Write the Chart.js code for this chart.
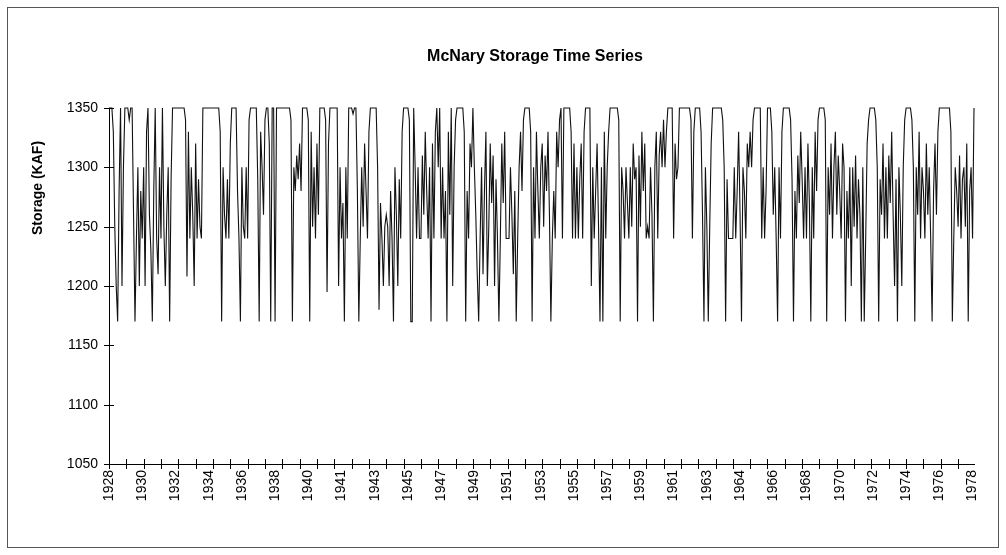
<!DOCTYPE html>
<html>
<head>
<meta charset="utf-8">
<script src="https://cdn.jsdelivr.net/npm/chart.js@4"></script>
<style>
  html, body { margin: 0; padding: 0; background: #fff; }
  #wrap { width: 1006px; height: 555px; }
</style>
</head>
<body>
<div id="wrap"><canvas id="c" width="1006" height="555"></canvas></div>
<script>
// ---- data ----
const chartTitle = 'McNary Storage Time Series';
const yAxisTitle = 'Storage (KAF)';
const yearLabels = ['1928','1930','1932','1934','1936','1938','1940','1941','1943','1945','1947','1949','1951','1953',
                    '1955','1957','1959','1961','1963','1964','1966','1968','1970','1972','1974','1976','1978'];
const monthsPerLabel = 23;
const monthsPerTick = 12;
const yMin = 1050, yMax = 1350, yStep = 50;

// monthly storage (KAF), one row per year
const storage = [
1350,1350,1350,1330,1250,1200,1170,1280,1350,1200,1300,1350,
1350,1350,1340,1350,1350,1260,1170,1240,1300,1200,1280,1240,
1300,1200,1330,1350,1260,1230,1170,1280,1350,1240,1210,1300,
1240,1350,1250,1200,1260,1300,1170,1290,1350,1350,1350,1350,
1350,1350,1350,1350,1350,1340,1208,1330,1240,1300,1260,1200,
1320,1240,1290,1250,1240,1350,1350,1350,1350,1350,1350,1350,
1350,1350,1350,1350,1350,1330,1170,1300,1260,1240,1290,1240,
1320,1350,1350,1350,1350,1280,1240,1170,1300,1250,1240,1300,
1240,1340,1350,1350,1350,1350,1350,1290,1170,1330,1300,1260,
1340,1350,1350,1320,1170,1350,1350,1170,1350,1350,1350,1350,
1350,1350,1350,1350,1350,1350,1340,1170,1300,1280,1310,1290,
1320,1280,1350,1350,1350,1350,1340,1170,1330,1250,1300,1240,
1320,1260,1350,1350,1350,1350,1340,1195,1320,1350,1350,1350,
1350,1350,1350,1200,1300,1240,1270,1170,1300,1240,1350,1350,
1350,1345,1350,1350,1280,1170,1240,1300,1250,1320,1280,1240,
1330,1350,1350,1350,1350,1350,1300,1180,1270,1240,1200,1250,
1260,1250,1200,1280,1240,1170,1300,1260,1200,1290,1240,1330,
1350,1350,1350,1350,1340,1170,1170,1350,1300,1240,1300,1240,
1240,1310,1260,1330,1280,1240,1300,1170,1320,1240,1330,1350,
1300,1350,1240,1300,1240,1280,1170,1330,1260,1350,1200,1300,
1340,1350,1350,1350,1350,1350,1330,1170,1280,1240,1320,1300,
1350,1300,1260,1210,1170,1240,1300,1210,1280,1330,1200,1250,
1320,1270,1310,1200,1290,1240,1170,1240,1320,1270,1330,1240,
1240,1240,1300,1260,1210,1280,1170,1240,1300,1330,1280,1340,
1350,1350,1350,1350,1330,1170,1300,1240,1330,1280,1240,1300,
1320,1250,1310,1280,1330,1260,1170,1240,1280,1240,1330,1300,
1340,1350,1240,1350,1350,1350,1350,1350,1330,1240,1320,1240,
1300,1240,1290,1320,1240,1330,1350,1350,1350,1350,1200,1300,
1240,1280,1320,1250,1170,1300,1170,1330,1240,1300,1330,1350,
1350,1350,1350,1350,1350,1340,1170,1300,1280,1240,1300,1270,
1240,1300,1250,1320,1290,1300,1170,1310,1250,1330,1280,1320,
1240,1250,1240,1300,1260,1170,1300,1330,1240,1310,1330,1300,
1340,1300,1330,1350,1350,1350,1350,1240,1320,1290,1300,1350,
1350,1350,1350,1350,1350,1350,1350,1340,1240,1330,1350,1350,
1350,1350,1330,1260,1170,1300,1250,1170,1250,1320,1350,1350,
1350,1350,1350,1350,1350,1340,1300,1170,1290,1240,1240,1240,
1240,1300,1240,1280,1330,1260,1170,1300,1280,1240,1320,1300,
1330,1300,1340,1350,1350,1350,1350,1350,1240,1300,1240,1280,
1350,1350,1350,1330,1260,1300,1240,1170,1300,1240,1330,1350,
1350,1350,1350,1350,1340,1290,1170,1280,1240,1310,1270,1330,
1290,1240,1300,1240,1320,1270,1170,1300,1240,1330,1280,1340,
1350,1350,1350,1350,1340,1170,1300,1260,1320,1240,1300,1330,
1260,1310,1280,1240,1320,1300,1170,1280,1240,1300,1200,1300,
1250,1310,1240,1290,1260,1170,1300,1170,1240,1320,1340,1350,
1350,1350,1350,1340,1300,1170,1290,1260,1320,1240,1300,1240,
1310,1270,1330,1260,1200,1290,1170,1300,1260,1200,1300,1340,
1350,1350,1350,1350,1340,1300,1170,1300,1260,1330,1240,1300,
1280,1240,1320,1260,1300,1240,1170,1280,1320,1260,1330,1350,
1350,1350,1350,1350,1350,1350,1350,1330,1170,1240,1300,1280,
1250,1310,1240,1290,1300,1250,1320,1170,1280,1300,1240,1350
];

// ---- drawing ----
const FONT = "'Liberation Sans', Arial, 'DejaVu Sans', sans-serif";

const decor = {
  id: 'decor',
  beforeDraw(chart) {
    const ctx = chart.ctx;
    ctx.save();
    ctx.fillStyle = '#fff';
    ctx.fillRect(0, 0, chart.width, chart.height);
    ctx.strokeStyle = '#555';
    ctx.lineWidth = 1;
    ctx.strokeRect(7.5, 7.5, 991, 540);
    ctx.restore();
  },
  afterDraw(chart) {
    const { ctx, chartArea, scales } = chart;
    const x = scales.x, y = scales.y;
    ctx.save();
    ctx.strokeStyle = '#000';
    ctx.lineWidth = 1;
    ctx.beginPath();
    // x tick marks (crossing the axis), one per year
    for (let v = x.min; v <= x.max; v += monthsPerTick) {
      const px = Math.round(x.getPixelForValue(v)) + 0.5;
      ctx.moveTo(px, chartArea.bottom - 5);
      ctx.lineTo(px, chartArea.bottom + 5);
    }
    // y tick marks (crossing the axis)
    y.ticks.forEach(t => {
      const py = Math.round(y.getPixelForValue(t.value)) + 0.5;
      ctx.moveTo(chartArea.left - 5, py);
      ctx.lineTo(chartArea.left + 5, py);
    });
    ctx.stroke();
    // title
    ctx.fillStyle = '#000';
    ctx.font = 'bold 16px ' + FONT;
    ctx.textAlign = 'center';
    ctx.textBaseline = 'middle';
    ctx.fillText(chartTitle, 535, 57);
    // y axis title
    ctx.translate(38, 188);
    ctx.rotate(-Math.PI / 2);
    ctx.font = 'bold 14px ' + FONT;
    ctx.fillText(yAxisTitle, 0, 0);
    ctx.restore();
  }
};

new Chart(document.getElementById('c'), {
  type: 'line',
  data: {
    datasets: [{
      data: storage.map((v, i) => ({ x: i, y: v })),
      borderColor: '#111',
      borderWidth: 1.1,
      pointRadius: 0,
      tension: 0,
      fill: false,
      clip: false
    }]
  },
  options: {
    responsive: false,
    animation: false,
    events: [],
    layout: { padding: { top: 108, right: 32, left: 0, bottom: 0 } },
    plugins: { legend: { display: false }, title: { display: false }, tooltip: { enabled: false } },
    scales: {
      x: {
        type: 'linear',
        min: 0,
        max: storage.length - 1,
        grid: { display: false, drawTicks: false },
        border: { display: true, color: '#000', width: 1 },
        afterFit(scale) { scale.height = 91; },
        ticks: {
          stepSize: monthsPerLabel,
          includeBounds: false,
          autoSkip: false,
          maxRotation: 90,
          minRotation: 90,
          padding: 6,
          color: '#000',
          font: { family: FONT, size: 14 },
          callback: (v) => (v % monthsPerLabel === 0 ? yearLabels[v / monthsPerLabel] : '')
        }
      },
      y: {
        min: yMin,
        max: yMax,
        grid: { display: false, drawTicks: false },
        border: { display: true, color: '#000', width: 1 },
        afterFit(scale) { scale.width = 109; },
        ticks: {
          stepSize: yStep,
          padding: 11,
          color: '#000',
          font: { family: FONT, size: 14 },
          callback: (v) => String(v)
        }
      }
    }
  },
  plugins: [decor]
});
</script>
</body>
</html>
